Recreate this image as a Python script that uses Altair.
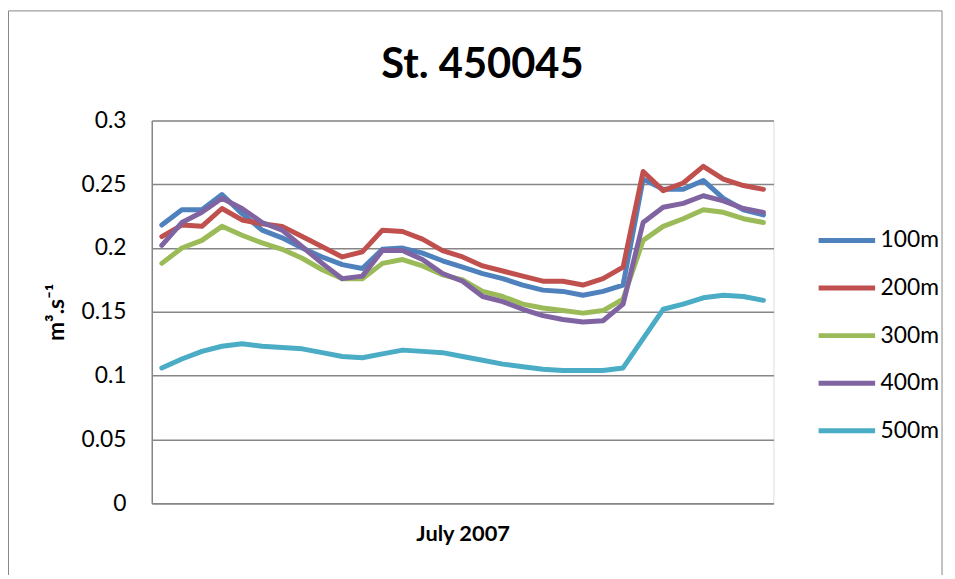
import altair as alt
import pandas as pd

# ---- data (July 2007, daily) ----
days = list(range(1, 32))
series_names = ["100m", "200m", "300m", "400m", "500m"]

s100 = [0.218, 0.230, 0.230, 0.242, 0.227, 0.214, 0.208, 0.200, 0.193, 0.187, 0.184,
        0.199, 0.200, 0.196, 0.190, 0.185, 0.180, 0.176, 0.171, 0.167, 0.166, 0.163,
        0.166, 0.171, 0.254, 0.246, 0.246, 0.253, 0.239, 0.230, 0.226]
s200 = [0.209, 0.218, 0.217, 0.231, 0.222, 0.219, 0.217, 0.209, 0.201, 0.193, 0.197,
        0.214, 0.213, 0.207, 0.198, 0.193, 0.186, 0.182, 0.178, 0.174, 0.174, 0.171,
        0.176, 0.185, 0.260, 0.245, 0.251, 0.264, 0.254, 0.249, 0.246]
s300 = [0.188, 0.200, 0.206, 0.217, 0.210, 0.204, 0.199, 0.192, 0.183, 0.176, 0.176,
        0.188, 0.191, 0.186, 0.179, 0.175, 0.166, 0.162, 0.156, 0.153, 0.151, 0.149,
        0.151, 0.160, 0.206, 0.217, 0.223, 0.230, 0.228, 0.223, 0.220]
s400 = [0.202, 0.220, 0.228, 0.239, 0.231, 0.220, 0.214, 0.201, 0.188, 0.176, 0.178,
        0.198, 0.198, 0.191, 0.180, 0.174, 0.162, 0.158, 0.152, 0.147, 0.144, 0.142,
        0.143, 0.156, 0.220, 0.232, 0.235, 0.241, 0.237, 0.231, 0.228]
s500 = [0.106, 0.113, 0.119, 0.123, 0.125, 0.123, 0.122, 0.121, 0.118, 0.115, 0.114,
        0.117, 0.120, 0.119, 0.118, 0.115, 0.112, 0.109, 0.107, 0.105, 0.104, 0.104,
        0.104, 0.106, 0.129, 0.152, 0.156, 0.161, 0.163, 0.162, 0.159]

y_ticks = [0, 0.05, 0.1, 0.15, 0.2, 0.25, 0.3]
colors = ["#4F81BD", "#C0504D", "#9BBB59", "#8064A2", "#4BACC6"]

rows = []
for name, vals in zip(series_names, [s100, s200, s300, s400, s500]):
    for d, v in zip(days, vals):
        rows.append({"day": d, "depth": name, "flow": v})
df = pd.DataFrame(rows)

FONT = "Lato, 'DejaVu Sans', sans-serif"
GRID = "#868686"

lines = alt.Chart(df).mark_line(
    strokeWidth=5, strokeCap="round", strokeJoin="round"
).encode(
    x=alt.X(
        "day:Q",
        scale=alt.Scale(domain=[0.5, 31.5], nice=False, zero=False),
        axis=alt.Axis(
            title="July 2007", labels=False, ticks=False, grid=False,
            domainColor=GRID, domainWidth=1.5,
            titleFont=FONT, titleFontSize=22, titleFontWeight="bold", titleColor="#000",
            titleBaseline="middle", titleY=31,
        ),
    ),
    y=alt.Y(
        "flow:Q",
        scale=alt.Scale(domain=[0, 0.3], nice=False),
        axis=alt.Axis(
            title="m³.s⁻¹", values=y_ticks, format=".2~f", ticks=False,
            labelPadding=26, labelFont=FONT, labelFontSize=23, labelColor="#000",
            gridColor=GRID, gridWidth=1.5, domainColor=GRID, domainWidth=1.5,
            titleFont=FONT, titleFontSize=23, titleFontWeight="bold", titleColor="#000",
            titleAngle=270, titleBaseline="middle", titleAlign="center",
            titleX=-96, titleY=193,
        ),
    ),
    color=alt.Color(
        "depth:N",
        scale=alt.Scale(domain=series_names, range=colors),
        legend=alt.Legend(
            title=None, orient="none", legendX=684, legendY=104,
            symbolType="M-2,0H2", symbolSize=812, symbolStrokeWidth=5,
            labelFont=FONT, labelFontSize=23, labelColor="#000",
            labelOffset=17, rowPadding=19, padding=0,
        ),
    ),
)

frame = alt.Chart(pd.DataFrame({"k": [0]})).mark_rect(
    fill="transparent", stroke=GRID, strokeWidth=1
).encode(
    x=alt.value(-144.5), x2=alt.value(797), y=alt.value(-110.5), y2=alt.value(700)
)

chart = alt.layer(frame, lines).properties(
    width=627,
    height=386,
    padding={"left": 145, "top": 111, "right": 175, "bottom": 70},
    autosize=alt.AutoSizeParams(type="none"),
    title=alt.TitleParams(
        "St. 450045", font=FONT, fontSize=42, fontWeight="bold", color="#000",
        anchor="middle", frame="group", offset=-110, baseline="alphabetic", dx=20,
    ),
).configure_view(strokeWidth=0).configure(background="white")

chart.save("out.html", embed_options={"renderer": "svg", "actions": False})
